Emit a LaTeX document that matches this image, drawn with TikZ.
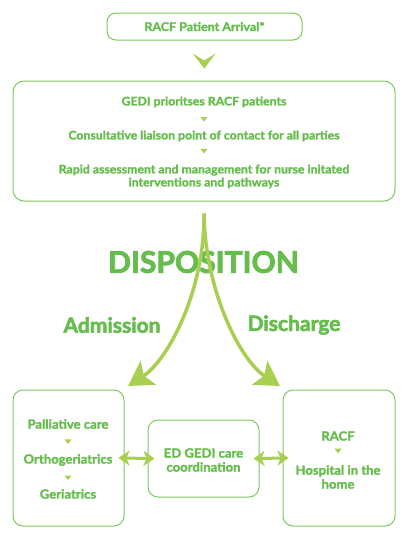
\documentclass[tikz,border=0pt]{standalone}
\usepackage{fontspec}
\setmainfont{Lato}[BoldFeatures={FakeBold=1.8,FakeStretch=1.04}]
\newfontfamily\heavyfont{Lato}[BoldFeatures={FakeBold=2.6}]
\usetikzlibrary{arrows.meta,positioning,calc}
\definecolor{leaf}{HTML}{66BD4E}
\definecolor{rim}{HTML}{7CC95E}
\definecolor{lime}{HTML}{A8CF52}
\tikzset{
  roundbox/.style={draw=rim,line width=1pt,rounded corners=9pt,fill=white,
                   align=center,inner sep=2pt},
  boxtext/.style={text=leaf,font=\fontsize{11.8}{13}\selectfont\bfseries,
                  align=center,inner sep=1pt},
  lowtext/.style={boxtext,font=\fontsize{12.6}{14}\selectfont\bfseries},
  bigword/.style={text=leaf,font=\heavyfont\fontsize{30}{34}\selectfont\bfseries,
                  inner sep=0pt},
  midword/.style={text=leaf,font=\heavyfont\fontsize{21}{24}\selectfont\bfseries,
                  inner sep=0pt},
  splitarr/.style={draw=lime,line width=3.5pt,
                   -{Stealth[length=24pt,width=28pt,inset=5pt]}},
  linkarr/.style={draw=lime,line width=3pt,
                  {Stealth[length=11pt,width=15pt,inset=3pt]}-{Stealth[length=11pt,width=15pt,inset=3pt]}}
}
\newcommand{\downmark}[1]{\fill[lime] ($(#1)+(-3.5,-2)$) -- ($(#1)+(3.5,-2)$)
  -- ($(#1)+(0,2.5)$) -- cycle;}

\begin{document}
\begin{tikzpicture}[x=1pt,y=-1pt]
    \path[use as bounding box,fill=white] (0,0) rectangle (420,544);

    % arrival
    \node[roundbox,minimum width=195pt,minimum height=27pt,text=leaf,
          font=\fontsize{12}{14}\selectfont\bfseries] (arrival) at (204.5,26.5)
      {RACF Patient Arrival*};

    % GEDI hub
    \node[roundbox,rounded corners=11pt,minimum width=382pt,minimum height=120pt]
      (hub) at (204,141) {};
    \node[boxtext] (prio) at (204,102) {GEDI prioritses RACF patients};
    \node[boxtext] (liaison) at (204,136)
      {Consultative liaison point of contact for all parties};
    \node[boxtext] (rapid) at (204,176.5)
      {Rapid assessment and management for nurse initated\\interventions and pathways};
    \path (prio) -- (liaison) coordinate[midway] (t1);
    \path (liaison) -- (rapid.north) coordinate[pos=0.4] (t2);
    \downmark{t1}
    \downmark{t2}

    \path (arrival.south) -- (hub.north) coordinate[midway] (drop);
    \fill[lime] ($(drop)+(-11.5,-7)$) -- ($(drop)+(0,8)$)
      -- ($(drop)+(11.5,-7)$) -- ($(drop)+(0,0)$) -- cycle;

    % disposition
    \node[bigword] (disp) at (203.5,262) {DISPOSITION};
    \node[midword] (adm) at (112,325) {Admission};
    \node[midword] (dis) at (294,325) {Discharge};

    % bottom boxes
    \node[roundbox,rounded corners=10pt,minimum width=111pt,minimum height=136pt]
      (care) at (68.5,458) {};
    \node[roundbox,rounded corners=10pt,minimum width=111pt,minimum height=77pt]
      (coord) at (203.5,458.5) {};
    \node[roundbox,rounded corners=10pt,minimum width=112pt,minimum height=136pt]
      (home) at (339,458) {};

    \node[lowtext] (pall) at (68,424) {Palliative care};
    \node[lowtext] (ortho) at (68,460) {Orthogeriatrics};
    \node[lowtext] (geri) at (68,494) {Geriatrics};
    \path (pall) -- (ortho) coordinate[midway] (t3);
    \path (ortho) -- (geri) coordinate[midway] (t4);
    \downmark{t3}
    \downmark{t4}

    \node[lowtext] (edcare) at (203.5,460) {ED GEDI care\\coordination};

    \node[lowtext] (racf) at (338,436) {RACF};
    \node[lowtext] (hith) at (338,477) {Hospital in the\\home};
    \path (racf) -- (hith.north) coordinate[pos=0.4] (t5);
    \downmark{t5}

    % split arrows
    \coordinate (fork) at ($(hub.south)+(0,12)$);
    \coordinate (admend) at (128,386);
    \coordinate (disend) at (280,386);
    \draw[splitarr] (fork) .. controls ($(fork)+(1,77)$) and (168,360) .. (admend);
    \draw[splitarr] (fork) .. controls ($(fork)+(1,77)$) and (240,360) .. (disend);

    \draw[linkarr,shorten <=-6pt,shorten >=-7pt] (care.east) -- (coord.west);
    \draw[linkarr,shorten <=-6pt,shorten >=-6pt] (coord.east) -- (home.west);
  \end{tikzpicture}
\end{document}
